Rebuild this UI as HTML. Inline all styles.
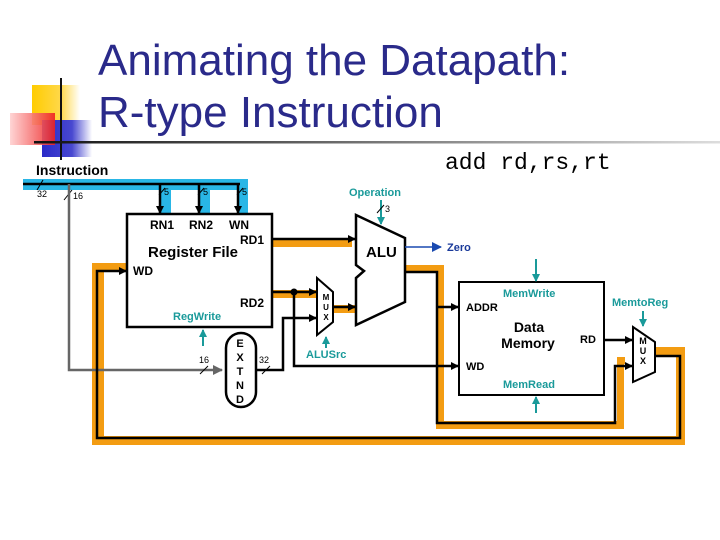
<!DOCTYPE html>
<html><head><meta charset="utf-8"><style>
html,body{margin:0;padding:0;background:#fff;}
svg{display:block;}
.b{font-family:"Liberation Sans",sans-serif;font-weight:bold;}
</style></head><body>
<svg width="720" height="540" viewBox="0 0 720 540" xmlns="http://www.w3.org/2000/svg">
<defs>
<linearGradient id="gy" x1="0" x2="1"><stop offset="0" stop-color="#ffcc00"/><stop offset="0.6" stop-color="#ffd84a"/><stop offset="1" stop-color="#fff"/></linearGradient>
<linearGradient id="gr" x1="0" x2="1"><stop offset="0" stop-color="#ffd0d0"/><stop offset="1" stop-color="#ee2020"/></linearGradient>
<linearGradient id="gb" x1="0" x2="1"><stop offset="0" stop-color="#2a2ac8"/><stop offset="0.6" stop-color="#4848d0"/><stop offset="1" stop-color="#fff"/></linearGradient>
<linearGradient id="gl" x1="0" x2="1"><stop offset="0" stop-color="#111"/><stop offset="0.5" stop-color="#777"/><stop offset="1" stop-color="#ddd"/></linearGradient>
<marker id="a" markerWidth="8" markerHeight="8" refX="7" refY="4" orient="auto" markerUnits="userSpaceOnUse"><path d="M0,0 L8,4 L0,8z" fill="#000"/></marker>
<marker id="t" markerWidth="8" markerHeight="8" refX="7" refY="4" orient="auto" markerUnits="userSpaceOnUse"><path d="M0,0 L8,4 L0,8z" fill="#1a9a9a"/></marker>
<marker id="g" markerWidth="10" markerHeight="10" refX="9" refY="5" orient="auto" markerUnits="userSpaceOnUse"><path d="M0,0 L10,5 L0,10z" fill="#666"/></marker>
<marker id="z" markerWidth="10" markerHeight="10" refX="9" refY="5" orient="auto" markerUnits="userSpaceOnUse"><path d="M0,0 L10,5 L0,10z" fill="#1a4ab0"/></marker>
</defs>
<!-- decoration -->
<rect x="32" y="85" width="48" height="40" fill="url(#gy)"/>
<rect x="42" y="120" width="50" height="37" fill="url(#gb)"/>
<rect x="10" y="113" width="45" height="32" fill="url(#gr)" opacity="0.9"/>
<line x1="61" y1="78" x2="61" y2="160" stroke="#111" stroke-width="2"/>
<rect x="34" y="141" width="686" height="2.5" fill="url(#gl)"/>
<text x="98" y="75" font-family="Liberation Sans,sans-serif" font-size="44" fill="#2a2a8a">Animating the Datapath:</text>
<text x="98" y="127" font-family="Liberation Sans,sans-serif" font-size="44" fill="#2a2a8a">R-type Instruction</text>
<text x="445" y="169" font-family="Liberation Mono,monospace" font-size="23" fill="#000">add rd,rs,rt</text>
<text x="36" y="175" class="b" font-size="14">Instruction</text>

<!-- highlighted paths -->
<g fill="#f39c12">
<rect x="161" y="179" width="10" height="34" fill="#29b6e6"/>
<rect x="200" y="179" width="10" height="34" fill="#29b6e6"/>
<rect x="238" y="179" width="10" height="34" fill="#29b6e6"/>
<rect x="23" y="179" width="225" height="11" fill="#29b6e6"/>
<rect x="272" y="238" width="80" height="9"/>
<rect x="272" y="290" width="45" height="8"/>
<rect x="333" y="305" width="22" height="8"/>
<path d="M405,265 H444 V421 H617 V357 H625 V364 H624 V429 H436 V273 H405z"/>
<path d="M655,347 H685 V445 H92 V263 H127 V272 H104 V436 H676 V356 H655z"/>
</g>
<!-- instruction bus -->
<g stroke="#000" stroke-width="2.5" fill="none">
<line x1="23" y1="184" x2="240" y2="184"/>
<line x1="160" y1="184" x2="160" y2="213" marker-end="url(#a)"/>
<line x1="199" y1="184" x2="199" y2="213" marker-end="url(#a)"/>
<line x1="238" y1="184" x2="238" y2="213" marker-end="url(#a)"/>
</g>
<g stroke="#000" stroke-width="1">
<line x1="37" y1="190" x2="43" y2="180"/><line x1="64" y1="200" x2="72" y2="190"/>
<line x1="159" y1="195" x2="165" y2="188"/><line x1="198" y1="195" x2="204" y2="188"/><line x1="237" y1="195" x2="243" y2="188"/>
</g>
<g font-family="Liberation Sans,sans-serif" font-size="9">
<text x="37" y="197">32</text><text x="73" y="199">16</text>
<text x="164" y="195">5</text><text x="203" y="195">5</text><text x="242" y="195">5</text>
</g>
<polyline points="69,184 69,370 222,370" stroke="#666" stroke-width="2.5" fill="none" marker-end="url(#g)"/>

<!-- register file -->
<rect x="127" y="214" width="145" height="113" fill="#fff" stroke="#000" stroke-width="2.5"/>
<g class="b" font-size="12">
<text x="150" y="229">RN1</text><text x="189" y="229">RN2</text><text x="229" y="229">WN</text>
<text x="240" y="244">RD1</text><text x="133" y="275">WD</text><text x="240" y="307">RD2</text>
</g>
<text x="148" y="257" class="b" font-size="15">Register File</text>
<text x="173" y="320" class="b" font-size="11" fill="#1a9a9a">RegWrite</text>
<line x1="203" y1="346" x2="203" y2="330" stroke="#1a9a9a" stroke-width="2" marker-end="url(#t)"/>

<!-- black wires -->
<g stroke="#000" stroke-width="2.5" fill="none">
<line x1="272" y1="239" x2="355" y2="239" marker-end="url(#a)"/>
<line x1="272" y1="292" x2="316" y2="292" marker-end="url(#a)"/>
<polyline points="294,292 294,366 458,366" marker-end="url(#a)"/>
<polyline points="256,370 283,370 283,318 316,318" marker-end="url(#a)"/>
<line x1="333" y1="307" x2="355" y2="307" marker-end="url(#a)"/>
<polyline points="405,272 437,272 437,423 615,423 615,366 632,366" marker-end="url(#a)"/>
<line x1="437" y1="307" x2="458" y2="307" marker-end="url(#a)"/>
<line x1="604" y1="340" x2="632" y2="340" marker-end="url(#a)"/>
<polyline points="655,356 680,356 680,438 97,438 97,271 126,271" marker-end="url(#a)"/>
</g>
<circle cx="294" cy="292" r="3.5" fill="#000"/>

<!-- EXTND -->
<rect x="226" y="333" width="30" height="74" rx="15" fill="#fff" stroke="#000" stroke-width="2.5"/>
<g class="b" font-size="11" text-anchor="middle"><text x="240" y="347">E</text><text x="240" y="361">X</text><text x="240" y="375">T</text><text x="240" y="389">N</text><text x="240" y="403">D</text></g>
<g stroke="#000" stroke-width="1"><line x1="200" y1="374" x2="208" y2="366"/><line x1="262" y1="374" x2="270" y2="366"/></g>
<text x="199" y="363" font-family="Liberation Sans,sans-serif" font-size="9">16</text>
<text x="259" y="363" font-family="Liberation Sans,sans-serif" font-size="9">32</text>

<!-- MUX1 -->
<polygon points="317,278 333,292 333,322 317,335" fill="#fff" stroke="#000" stroke-width="2"/>
<g class="b" font-size="8" text-anchor="middle"><text x="326" y="300">M</text><text x="326" y="310">U</text><text x="326" y="320">X</text></g>
<line x1="326" y1="348" x2="326" y2="337" stroke="#1a9a9a" stroke-width="2" marker-end="url(#t)"/>
<text x="306" y="358" class="b" font-size="11" fill="#1a9a9a">ALUSrc</text>

<!-- ALU -->
<polygon points="356,215 405,238 405,302 356,325 356,278 364,271 356,265" fill="#fff" stroke="#000" stroke-width="2.5"/>
<text x="366" y="257" class="b" font-size="15">ALU</text>
<text x="349" y="196" class="b" font-size="11" fill="#1a9a9a">Operation</text>
<line x1="381" y1="200" x2="381" y2="224" stroke="#1a9a9a" stroke-width="2" marker-end="url(#t)"/>
<line x1="377" y1="213" x2="384" y2="205" stroke="#000" stroke-width="1"/>
<text x="385" y="212" font-family="Liberation Sans,sans-serif" font-size="9">3</text>
<line x1="405" y1="247" x2="441" y2="247" stroke="#1a4ab0" stroke-width="1.5" marker-end="url(#z)"/>
<text x="447" y="251" class="b" font-size="11" fill="#1a3a9a">Zero</text>

<!-- Data memory -->
<rect x="459" y="282" width="145" height="113" fill="#fff" stroke="#000" stroke-width="2"/>
<text x="503" y="297" class="b" font-size="11" fill="#1a9a9a">MemWrite</text>
<text x="503" y="388" class="b" font-size="11" fill="#1a9a9a">MemRead</text>
<g class="b" font-size="11"><text x="466" y="311">ADDR</text><text x="580" y="343">RD</text><text x="466" y="370">WD</text></g>
<g class="b" font-size="14" text-anchor="middle"><text x="529" y="332">Data</text><text x="528" y="348">Memory</text></g>
<line x1="536" y1="259" x2="536" y2="281" stroke="#1a9a9a" stroke-width="2" marker-end="url(#t)"/>
<line x1="536" y1="413" x2="536" y2="397" stroke="#1a9a9a" stroke-width="2" marker-end="url(#t)"/>

<!-- MUX2 -->
<polygon points="633,327 655,342 655,372 633,382" fill="#fff" stroke="#000" stroke-width="2"/>
<g class="b" font-size="9" text-anchor="middle"><text x="643" y="344">M</text><text x="643" y="354">U</text><text x="643" y="364">X</text></g>
<text x="612" y="306" class="b" font-size="11" fill="#1a9a9a">MemtoReg</text>
<line x1="643" y1="311" x2="643" y2="326" stroke="#1a9a9a" stroke-width="2" marker-end="url(#t)"/>
</svg>
</body></html>
